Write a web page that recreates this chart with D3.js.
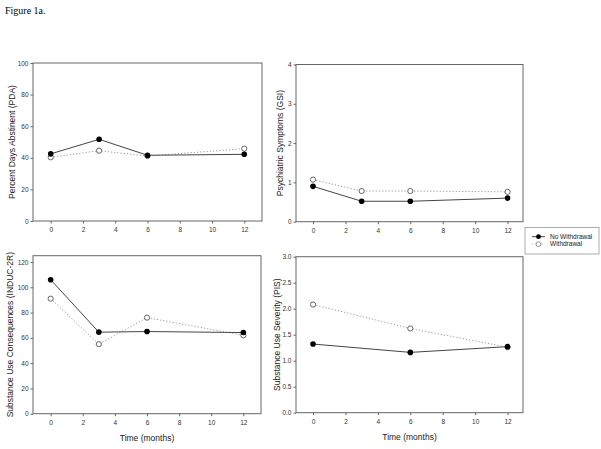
<!DOCTYPE html>
<html><head><meta charset="utf-8">
<script src="https://cdn.jsdelivr.net/npm/d3@7"></script>
<style>body{margin:0;background:#fff}svg{display:block}</style>
</head><body>
<svg id="c" width="601" height="449"></svg>
<script>
const months = [0, 3, 6, 12];
const monthsPIS = [0, 6, 12];
const xTicks = [0, 2, 4, 6, 8, 10, 12];
const seriesNames = ["No Withdrawal", "Withdrawal"];

const pdaNoW = [42.5, 51.7, 41.6, 42.2];
const pdaW   = [40.3, 44.5, 41.1, 45.8];
const gsiNoW = [0.90, 0.52, 0.52, 0.60];
const gsiW   = [1.07, 0.78, 0.78, 0.76];
const inducNoW = [106, 64.5, 65, 64.2];
const inducW   = [91, 55, 76, 62];
const pisNoW = [1.32, 1.16, 1.27];
const pisW   = [2.08, 1.62, 1.26];

const pdaTicks = [0, 20, 40, 60, 80, 100];
const gsiTicks = [0, 1, 2, 3, 4];
const inducTicks = [0, 20, 40, 60, 80, 100, 120];
const pisTicks = [0, 0.5, 1.0, 1.5, 2.0, 2.5, 3.0];

const panels = [
  {box:[33,63,262,221], xd:[-1.1,13.1], yd:[0,100], yt:pdaTicks, fmt:d3.format("d"), x:months, a:pdaNoW, b:pdaW, label:"Percent Days Abstinent (PDA)", lx:12.5, xlab:null},
  {box:[296,64.5,523,221.7], xd:[-1.05,12.95], yd:[0,4], yt:gsiTicks, fmt:d3.format("d"), x:months, a:gsiNoW, b:gsiW, label:"Psychiatric Symptoms (GSI)", lx:280.5, xlab:null},
  {box:[33,255.7,261,413.7], xd:[-1.1,13.1], yd:[0,125], yt:inducTicks, fmt:d3.format("d"), x:months, a:inducNoW, b:inducW, label:"Substance Use Consequences (INDUC-2R)", lx:10.5, xlab:"Time (months)"},
  {box:[296,256.7,523,412.7], xd:[-1.05,12.95], yd:[0,3], yt:pisTicks, fmt:d3.format(".1f"), x:monthsPIS, a:pisNoW, b:pisW, label:"Substance Use Severity (PIS)", lx:277, xlab:"Time (months)"}
];

const svg = d3.select("#c");
const frameCol = "#666";
const font = "Arial, 'Liberation Sans', sans-serif";

svg.append("text").attr("x",5).attr("y",14).attr("font-family","'Liberation Serif', 'Times New Roman', serif")
  .attr("font-size",10).attr("fill","#000").text("Figure 1a.");

panels.forEach(p => {
  const [x0,y0,x1,y1] = p.box;
  const x = d3.scaleLinear().domain(p.xd).range([x0,x1]);
  const y = d3.scaleLinear().domain(p.yd).range([y1,y0]);
  const g = svg.append("g");
  g.append("rect").attr("x",x0).attr("y",y0).attr("width",x1-x0).attr("height",y1-y0)
    .attr("fill","none").attr("stroke",frameCol).attr("stroke-width",1);
  const xa = g.append("g").attr("transform",`translate(0,${y1})`)
    .call(d3.axisBottom(x).tickValues(xTicks).tickSize(2.5).tickPadding(4).tickFormat(d3.format("d")));
  const ya = g.append("g").attr("transform",`translate(${x0},0)`)
    .call(d3.axisLeft(y).tickValues(p.yt).tickSize(2.5).tickPadding(2).tickFormat(p.fmt));
  [xa,ya].forEach(a => {
    a.select(".domain").remove();
    a.selectAll("line").attr("stroke",frameCol);
    a.selectAll("text").attr("font-family",font).attr("font-size",6.5).attr("fill","#333");
  });
  g.append("text").attr("transform",`translate(${p.lx},${(y0+y1)/2}) rotate(-90)`)
    .attr("text-anchor","middle").attr("dy","0.35em").attr("font-family",font).attr("font-size",8.5)
    .attr("fill","#222").text(p.label);
  if (p.xlab) {
    g.append("text").attr("x",(x0+x1)/2).attr("y",y1+27).attr("text-anchor","middle")
      .attr("font-family",font).attr("font-size",8.5).attr("fill","#222").text(p.xlab);
  }
  const line = d3.line().x((d,i)=>x(p.x[i])).y(d=>y(d));
  g.append("path").attr("d",line(p.b)).attr("fill","none").attr("stroke","#999")
    .attr("stroke-width",1).attr("stroke-dasharray","1.2,2");
  g.append("path").attr("d",line(p.a)).attr("fill","none").attr("stroke","#444").attr("stroke-width",1);
  g.selectAll(".pb").data(p.b).join("circle").attr("cx",(d,i)=>x(p.x[i])).attr("cy",d=>y(d))
    .attr("r",2.6).attr("fill","#fff").attr("stroke","#555").attr("stroke-width",0.9);
  g.selectAll(".pa").data(p.a).join("circle").attr("cx",(d,i)=>x(p.x[i])).attr("cy",d=>y(d))
    .attr("r",2.8).attr("fill","#000");
});

// legend
const lg = svg.append("g");
lg.append("rect").attr("x",525).attr("y",227.5).attr("width",74).attr("height",26.5)
  .attr("fill","#fff").attr("stroke","#999").attr("stroke-width",0.8);
seriesNames.forEach((n,i) => {
  const yy = 236.7 + i*7.5;
  lg.append("line").attr("x1",532).attr("x2",545).attr("y1",yy).attr("y2",yy)
    .attr("stroke", i===0 ? "#444" : "#bbb").attr("stroke-width",1)
    .attr("stroke-dasharray", i===0 ? null : "1.2,2");
  lg.append("circle").attr("cx",538.5).attr("cy",yy).attr("r",2.4)
    .attr("fill", i===0 ? "#000" : "#fff").attr("stroke", i===0 ? "none" : "#777").attr("stroke-width",0.8);
  lg.append("text").attr("x",550).attr("y",yy).attr("dy","0.35em").attr("font-family",font)
    .attr("font-size",6.5).attr("fill","#222").text(n);
});
</script>
</body></html>
